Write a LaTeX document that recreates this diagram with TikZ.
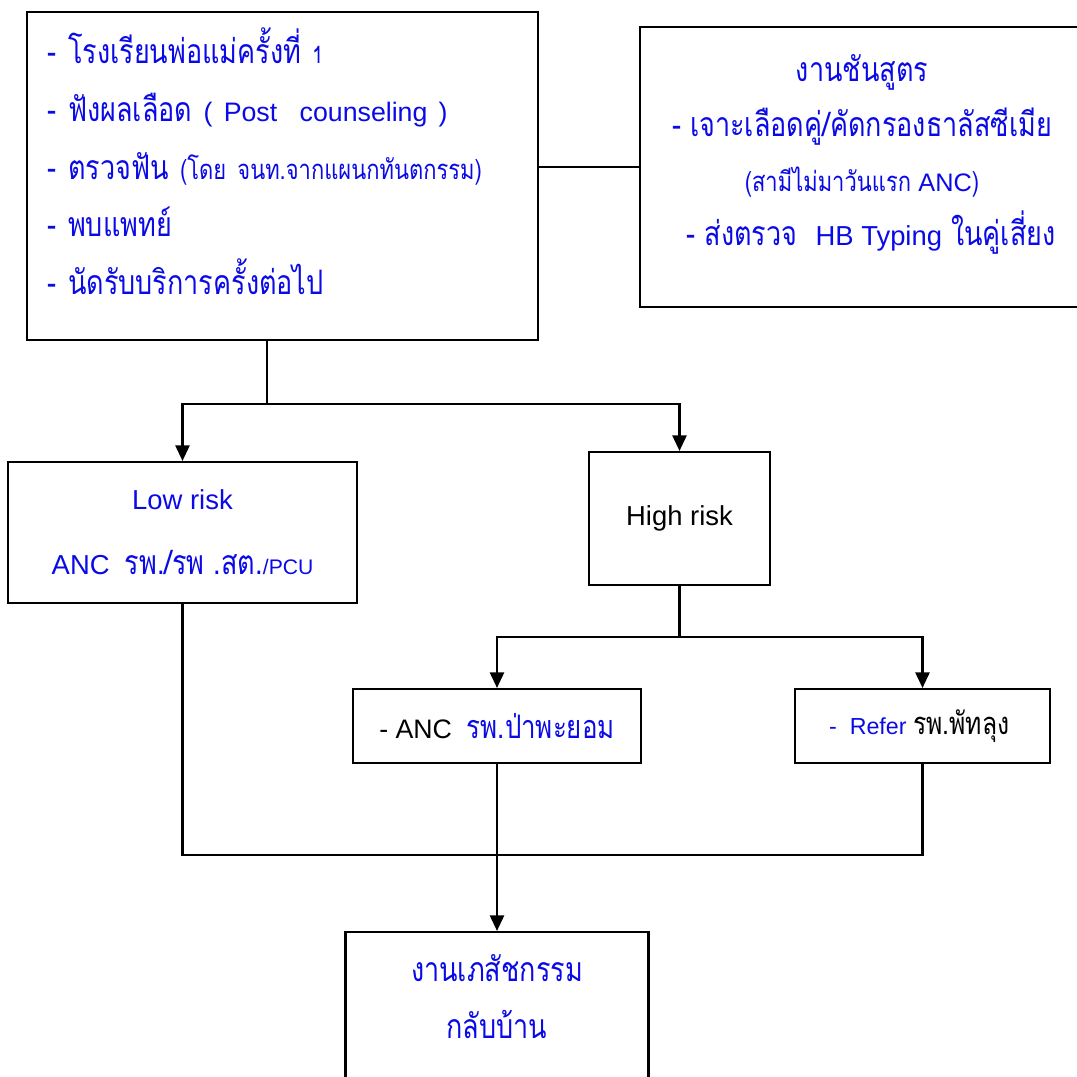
\documentclass[tikz,border=0pt]{standalone}
\usepackage{fontspec}
\setmainfont{Liberation Sans}
\newfontfamily\thaifnt[Script=Thai,FakeStretch=0.8]{Loma}
\usetikzlibrary{arrows.meta, positioning}
\definecolor{txtblue}{RGB}{10,10,230}
\newcommand{\smallth}{\fontsize{19.5}{22}\selectfont}

\begin{document}
\begin{tikzpicture}[x=0.025cm,y=-0.025cm,line width=1.5pt,
		>={Triangle[length=11pt,width=10pt]},
		box/.style={draw,rectangle,inner sep=0pt,line width=1.5pt},
		thbox/.style={box,text=txtblue,font=\thaifnt\fontsize{24}{41}\selectfont}]
	\useasboundingbox (0,0) rectangle (1077,1077);
	\clip (0,0) rectangle (1077,1077);

	\node[thbox,minimum width=12.775cm,minimum height=8.2cm,text width=11.725cm,align=left] (B1) at (282.5,176)
		{- โรงเรียนพ่อแม่ครั้งที่ {\fontsize{17}{20}\selectfont 1}\\
		 - ฟังผลเลือด {\rmfamily\fontsize{19}{41}\selectfont( Post~~counseling )}\\
		 - ตรวจฟัน {\smallth (โดย จนท.จากแผนกทันตกรรม)}\\
		 - พบแพทย์\\
		 - นัดรับบริการครั้งต่อไป\rule[-21pt]{0pt}{0pt}};
	\node[thbox,minimum width=11.1cm,minimum height=7cm,align=center,text depth=24pt,font=\thaifnt\fontsize{24}{39}\selectfont] (B2) at (862,167)
		{งานชันสูตร\\
		 - เจาะเลือดคู่/คัดกรองธาลัสซีเมีย\\
		 {\smallth (สามีไม่มาวันแรก {\rmfamily\fontsize{18}{20}\selectfont ANC})}\\
		 ~~- ส่งตรวจ~~{\rmfamily\fontsize{19.5}{39}\selectfont HB Typing} ในคู่เสี่ยง};
	\node[box,minimum width=8.725cm,minimum height=3.525cm,align=center,text=txtblue,font=\fontsize{19.5}{46}\selectfont] (B3) at (182.5,532.5)
		{Low risk\\ANC~~{\thaifnt\fontsize{24}{46}\selectfont รพ./รพ .สต.}{\fontsize{15}{18}\selectfont /PCU}};
	\node[box,minimum width=4.525cm,minimum height=3.325cm,font=\fontsize{19.5}{24}\selectfont] (B4) at (679.5,518.5) {High risk};
	\node[box,minimum width=7.2cm,minimum height=1.85cm,font=\fontsize{19}{24}\selectfont] (B5) at (497,726)
		{- ANC~~{\thaifnt\fontsize{23}{24}\selectfont\color{txtblue} รพ.ป่าพะยอม}};
	\node[box,minimum width=6.375cm,minimum height=1.85cm,font=\fontsize{16.5}{24}\selectfont] (B6) at (922.5,726)
		{{\color{txtblue}-~~Refer} {\thaifnt\fontsize{22}{24}\selectfont รพ.พัทลุง}~~};
	\node[thbox,minimum width=7.575cm,minimum height=3.7cm,align=center,text depth=13pt,font=\thaifnt\fontsize{24}{40.5}\selectfont] (B7) at (497,1006)
		{งานเภสัชกรรม\\กลับบ้าน};

	\coordinate (J1) at (267,404);
	\coordinate (J2) at (679.5,637);
	\coordinate (J3) at (497,855);

	\draw (B1.east |- B2.west) -- (B2.west);
	\draw (B1.south -| J1) -- (J1);
	\draw[->] (J1) -| (B3.north);
	\draw[->] (J1) -| (B4.north);
	\draw (B4.south) -- (J2);
	\draw[->] (J2) -| (B5.north);
	\draw[->] (J2) -| (B6.north);
	\draw (B3.south) |- (B6.south |- J3) -- (B6.south);
	\draw[->] (B5.south) -- (B7.north);
\end{tikzpicture}
\end{document}
